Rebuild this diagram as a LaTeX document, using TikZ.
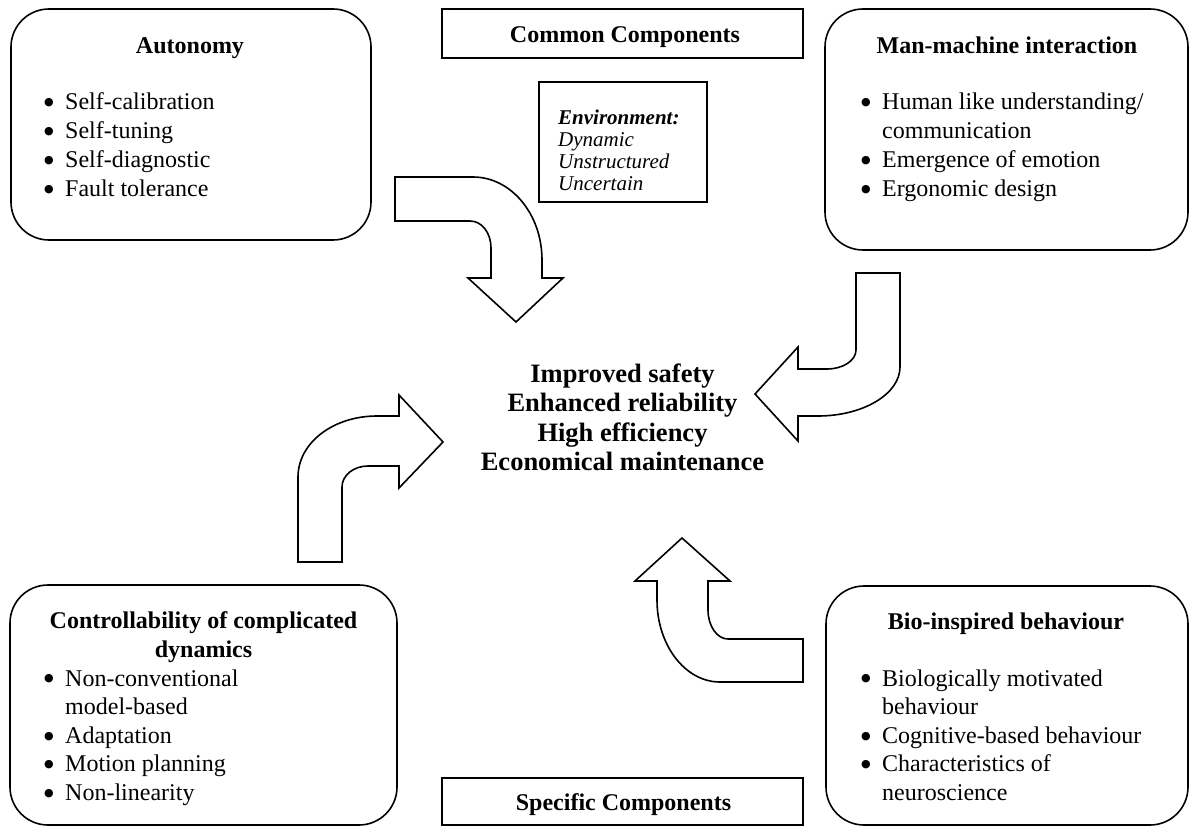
\documentclass[tikz,border=0pt]{standalone}
\usepackage{fontspec}
\setmainfont{Liberation Serif}
\newfontfamily\dotfont{DejaVu Sans}
% bullet and continuation indent for the item lists
\newcommand\itm{\makebox[21pt][l]{\raisebox{4.2pt}{\fontsize{11}{11}\dotfont ●}}}
\newcommand\cont{\hspace*{21pt}}
\begin{document}
\begin{tikzpicture}[x=1pt,y=-1pt,
  outline/.style={draw, line width=1.6pt},
  roundbox/.style={outline, rounded corners=38pt, inner sep=0pt},
  plainbox/.style={outline, inner sep=0pt},
  blockarrow/.style={outline, fill=white, line join=miter, miter limit=10},
  body/.style={font=\fontsize{24}{29}\selectfont, inner sep=0pt},
  listtight/.style={font=\fontsize{24}{28.6}\selectfont, inner sep=0pt},
  heading/.style={font=\fontsize{24}{29}\selectfont\bfseries, inner sep=0pt},
  envtext/.style={font=\fontsize{21}{21.7}\selectfont\itshape, inner sep=0pt},
  goaltext/.style={font=\fontsize{26.5}{29.5}\selectfont\bfseries, inner sep=0pt}]
\useasboundingbox (0,0) rectangle (1192,826);

% frames
\node[roundbox, minimum width=360pt, minimum height=231pt] (autonomy) at (191,124.5) {};
\node[roundbox, minimum width=363pt, minimum height=241pt] (mmi) at (1006.5,129.5) {};
\node[roundbox, minimum width=387pt, minimum height=240pt] (control) at (203.5,705) {};
\node[roundbox, minimum width=362pt, minimum height=239pt] (bio) at (1007,705.5) {};
\node[plainbox, minimum width=361pt, minimum height=49pt] (common) at (622.5,33.5) {};
\node[plainbox, minimum width=168pt, minimum height=120pt] (env) at (623,142) {};
\node[plainbox, minimum width=361pt, minimum height=47pt] (specific) at (622.5,801.5) {};

% headings
\node[heading, anchor=base] (common-title) at (625,43) {Common Components};
\node[heading, anchor=base] (specific-title) at (623.5,810) {Specific Components};
\node[heading, anchor=base] (autonomy-title) at (190,54) {Autonomy};
\node[heading, anchor=base] (mmi-title) at (1007,54) {Man-machine interaction};
\node[heading, anchor=base] (control-title) at (203.5,628)
  {\begin{tabular}[t]{@{}c@{}}Controllability of complicated\\ dynamics\end{tabular}};
\node[heading, anchor=base] (bio-title) at (1006,629) {Bio-inspired behaviour};

% item lists
\node[body, anchor=base west] (autonomy-list) at (44,110)
  {\begin{tabular}[t]{@{}l@{}}\itm Self-calibration\\ \itm Self-tuning\\
   \itm Self-diagnostic\\ \itm Fault tolerance\end{tabular}};
\node[body, anchor=base west] (mmi-list) at (861,110)
  {\begin{tabular}[t]{@{}l@{}}\itm Human like understanding/\\ \cont communication\\
   \itm Emergence of emotion\\ \itm Ergonomic design\end{tabular}};
\node[listtight, anchor=base west] (control-list) at (44,686)
  {\begin{tabular}[t]{@{}l@{}}\itm Non-conventional\\ \cont model-based\\
   \itm Adaptation\\ \itm Motion planning\\ \itm Non-linearity\end{tabular}};
\node[listtight, anchor=base west] (bio-list) at (861,686)
  {\begin{tabular}[t]{@{}l@{}}\itm Biologically motivated\\ \cont behaviour\\
   \itm Cognitive-based behaviour\\ \itm Characteristics of\\ \cont neuroscience\end{tabular}};

% environment
\node[envtext, anchor=base west] (env-text) at (558,125)
  {\begin{tabular}[t]{@{}l@{}}\textbf{Environment:}\\ Dynamic\\ Unstructured\\ Uncertain\end{tabular}};

% outcomes in the centre
\node[goaltext, anchor=base] (goals) at (622.5,382)
  {\begin{tabular}[t]{@{}c@{}}Improved safety\\ Enhanced reliability\\ High efficiency\\ Economical maintenance\end{tabular}};

% block arrows
\draw[blockarrow] (395,177) -- (473,177) .. controls (511,177) and (542,214) .. (542,260)
  -- (542,278) -- (563,278) -- (516,322) -- (468,278) -- (491,278) -- (491,248)
  .. controls (491,233) and (482,221) .. (470,221) -- (395,221) -- cycle;
\draw[blockarrow] (856,273) -- (900,273) -- (900,367) .. controls (900,394) and (863,416) .. (818,416)
  -- (798,416) -- (798,441) -- (755,394) -- (798,347) -- (798,369) -- (827,369)
  .. controls (843,369) and (856,360.5) .. (856,350) -- cycle;
\draw[blockarrow] (298,562) -- (298,477) .. controls (298,443) and (333,416) .. (377,416)
  -- (399,416) -- (399,395) -- (443,442) -- (399,488) -- (399,466) -- (368,466)
  .. controls (354,466) and (342,475) .. (342,487) -- (342,562) -- cycle;
\draw[blockarrow] (682,538) -- (730,581) -- (708,581) -- (708,610)
  .. controls (708,626) and (717,639) .. (728,639) -- (803,639) -- (803,682) -- (720,682)
  .. controls (685,682) and (657,645) .. (657,600) -- (657,581) -- (635,581) -- cycle;
\end{tikzpicture}
\end{document}
